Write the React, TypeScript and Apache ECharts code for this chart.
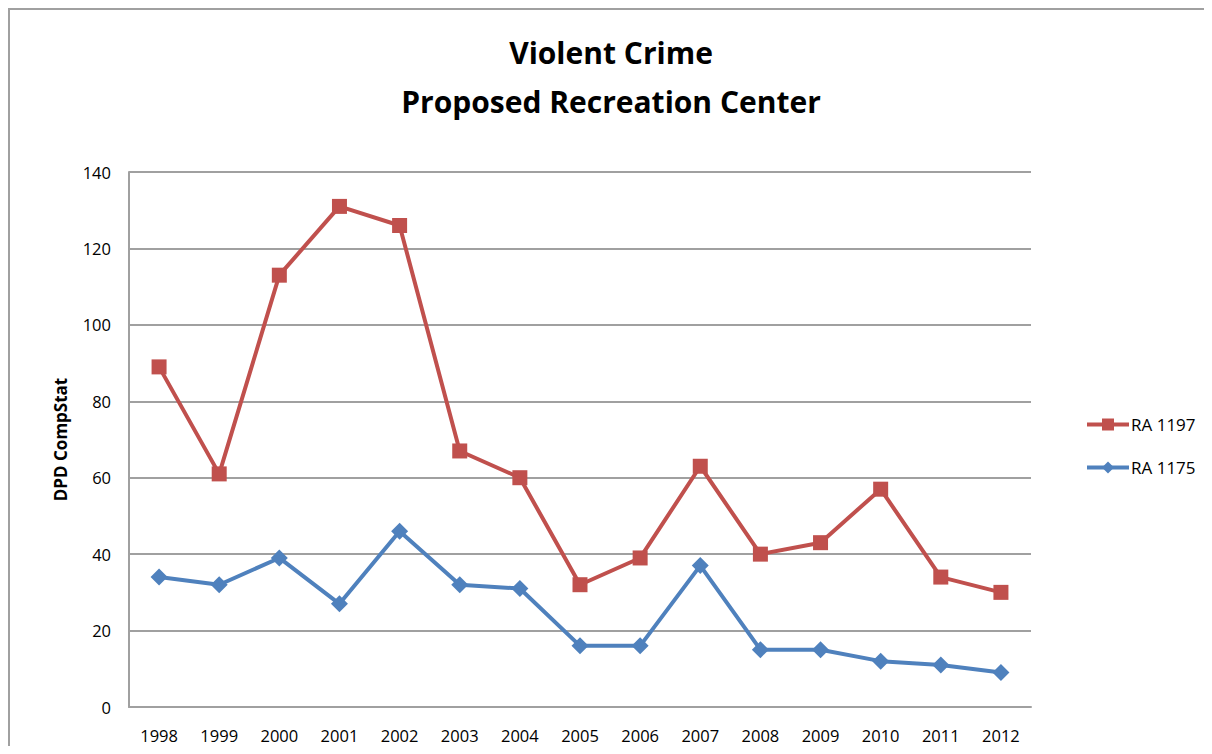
import React, { useEffect, useRef } from "react";
import * as echarts from "echarts";

const years = ["1998","1999","2000","2001","2002","2003","2004","2005","2006","2007","2008","2009","2010","2011","2012"];
const ra1197 = [89, 61, 113, 131, 126, 67, 60, 32, 39, 63, 40, 43, 57, 34, 30];
const ra1175 = [34, 32, 39, 27, 46, 32, 31, 16, 16, 37, 15, 15, 12, 11, 9];
const titleLines = ["Violent Crime", "Proposed Recreation Center"];
const yAxisName = "DPD CompStat";

export default function App() {
  const ref = useRef<HTMLDivElement>(null);
  useEffect(() => {
    if (!ref.current) return;
    const chart = echarts.init(ref.current, null, { renderer: "svg" });
    const font = "'Open Sans', 'Noto Sans', sans-serif";
    chart.setOption({
      animation: false,
      backgroundColor: "#ffffff",
      textStyle: { fontFamily: font },
      title: {
        text: titleLines.join("\n"),
        left: "center",
        top: 13,
        textStyle: { fontFamily: font, fontWeight: "bold", fontSize: 30, lineHeight: 49, color: "#000000" },
      },
      legend: {
        orient: "vertical",
        left: 1070,
        top: 401,
        itemWidth: 42,
        itemHeight: 15,
        itemGap: 26,
        lineStyle: { width: 4 },
        textStyle: { fontFamily: font, fontSize: 17, color: "#000000", padding: [0, 0, 0, -3] },
        data: ["RA 1197", "RA 1175"],
      },
      grid: { left: 119, top: 162, right: 181, bottom: 39, containLabel: false },
      xAxis: {
        type: "category",
        data: years,
        boundaryGap: true,
        axisLine: { lineStyle: { color: "#a0a0a0", width: 2 } },
        axisTick: { show: false },
        axisLabel: { fontFamily: font, fontSize: 16.5, color: "#000000", margin: 20 },
      },
      yAxis: {
        type: "value",
        min: 0,
        max: 140,
        interval: 20,
        name: yAxisName,
        nameLocation: "middle",
        nameGap: 60,
        nameRotate: 90,
        nameTextStyle: { fontFamily: font, fontSize: 17, fontWeight: "bold", color: "#000000" },
        axisLine: { show: true, lineStyle: { color: "#a0a0a0", width: 2 } },
        axisTick: { show: false },
        axisLabel: { fontFamily: font, fontSize: 16.5, color: "#000000", margin: 18 },
        splitLine: { lineStyle: { color: "#a0a0a0", width: 2 } },
      },
      series: [
        {
          name: "RA 1197",
          type: "line",
          data: ra1197,
          symbol: "rect",
          symbolSize: 15,
          lineStyle: { color: "#c0504d", width: 4 },
          itemStyle: { color: "#c0504d" },
          z: 3,
        },
        {
          name: "RA 1175",
          type: "line",
          data: ra1175,
          symbol: "diamond",
          symbolSize: 17,
          lineStyle: { color: "#4f81bd", width: 4 },
          itemStyle: { color: "#4f81bd" },
          z: 2,
        },
      ],
    });
    return () => chart.dispose();
  }, []);
  return (
    <div style={{ width: 1204, height: 738, boxSizing: "border-box", borderLeft: "2px solid #a0a0a0", borderTop: "2px solid #a0a0a0" }}>
      <div ref={ref} style={{ width: 1202, height: 736 }} />
    </div>
  );
}
